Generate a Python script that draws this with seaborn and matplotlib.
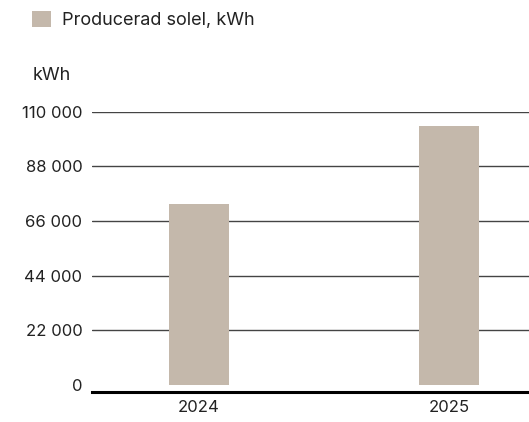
import matplotlib
matplotlib.use("Agg")
import matplotlib.pyplot as plt
import seaborn as sns
import pandas as pd

# Data
years = ["2024", "2025"]
produced_kwh = [73000, 104400]
y_ticks = [0, 22000, 44000, 66000, 88000, 110000]
series_label = "Producerad solel, kWh"
bar_color = "#C4B8AB"

sns.set_style("white")
plt.rcParams["font.family"] = ["Inter", "DejaVu Sans"]

df = pd.DataFrame({"year": years, "kwh": produced_kwh})

fig = plt.figure(figsize=(5.29, 4.22), dpi=100)
ax = fig.add_axes([0.174, 0.071, 0.826, 0.664])

sns.barplot(data=df, x="year", y="kwh", color=bar_color, saturation=1,
            width=0.24, label=series_label, ax=ax, zorder=3, linewidth=0)

ax.set_xlim(-0.428, 1.32)
ax.set_ylim(-2800, 110000)
ax.set_yticks(y_ticks)
ax.set_yticklabels([f"{v:,}".replace(",", " ") for v in y_ticks])

# grid lines (skip the zero line, the bottom spine acts as baseline)
for v in y_ticks[1:]:
    ax.axhline(v, color="#444444", linewidth=1, zorder=0)

for side in ["top", "right", "left"]:
    ax.spines[side].set_visible(False)
ax.spines["bottom"].set_color("black")
ax.spines["bottom"].set_linewidth(2.2)

ax.tick_params(axis="y", length=0, pad=7, labelsize=12, labelcolor="#222222")
ax.tick_params(axis="x", length=0, pad=6, labelsize=12, labelcolor="#222222")
ax.set_xlabel("")
ax.set_ylabel("")

fig.text(33 / 529, 1 - 75 / 422, "kWh", va="center", ha="left",
         fontsize=13, color="#222222")

ax.legend(loc="center left", bbox_to_anchor=(16 / 529, 1 - 20 / 422),
          bbox_transform=fig.transFigure, frameon=False,
          handlelength=1.05, handleheight=1.05, handletextpad=0.6,
          fontsize=13, labelcolor="#222222")

fig.savefig("out.png", dpi=100)
